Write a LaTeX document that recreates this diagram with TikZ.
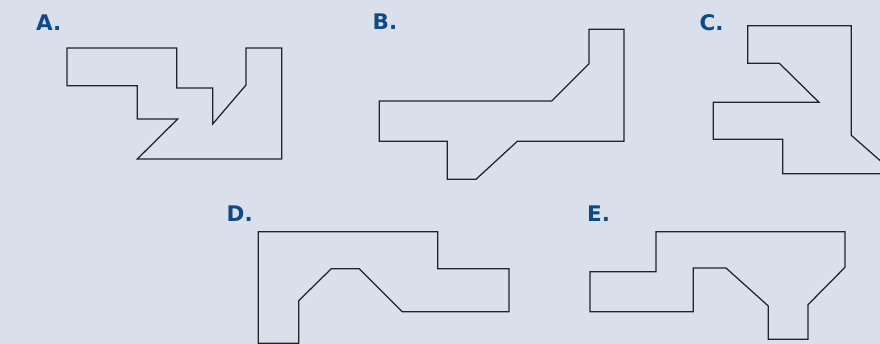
\documentclass[tikz,border=0pt]{standalone}
\usepackage{fontspec}
\setmainfont{Liberation Sans}
\newfontfamily\labfont{DejaVu Sans}
\definecolor{bgcol}{RGB}{218,223,236}
\definecolor{labblue}{RGB}{16,74,134}
\definecolor{edgecol}{RGB}{35,35,38}
\begin{document}
\begin{tikzpicture}[x=1pt,y=-1pt,
  shapeline/.style={draw=edgecol,line width=1.25pt,line join=miter},
  lab/.style={anchor=base west,inner sep=0pt,text=labblue,font=\labfont\fontsize{21.5}{22}\selectfont\bfseries}]
\fill[bgcol] (0,0) rectangle (880,344);
\useasboundingbox (0,0) rectangle (880,344);
\clip (0,0) rectangle (880,344);
% labels
\node[lab] (la) at (36,31) {A.};
\node[lab] (lb) at (372.5,30) {B.};
\node[lab] (lc) at (699.5,31) {C.};
\node[lab] (ld) at (226.5,221.5) {D.};
\node[lab] (le) at (587,222) {E.};
% shape A
\draw[shapeline] (67,48) -- (176.7,48) -- (176.7,88) -- (212.7,88) -- (212.7,124)
  -- (246,85) -- (246,48) -- (281.7,48) -- (281.7,159) -- (137.3,159)
  -- (177.7,119) -- (137.3,119) -- (137.3,85.7) -- (67,85.7) -- cycle;
% shape B
\draw[shapeline] (379.3,101) -- (551.7,101) -- (589,63.7) -- (589,29.3) -- (624,29.3)
  -- (624,141.3) -- (517.3,141.3) -- (476,179.3) -- (447.3,179.3) -- (447.3,141.3)
  -- (379.3,141.3) -- cycle;
% shape C
\draw[shapeline] (747.7,25.7) -- (851.3,25.7) -- (851.3,135.3) -- (895,173.7)
  -- (782.7,173.7) -- (782.7,139.3) -- (713.3,139.3) -- (713.3,102.3) -- (819,102.3)
  -- (779.3,63.3) -- (747.7,63.3) -- cycle;
% shape D
\draw[shapeline] (258.3,231.7) -- (437.7,231.7) -- (437.7,268.7) -- (509,268.7)
  -- (509,311.7) -- (402.3,311.7) -- (359.3,268.7) -- (331.3,268.7) -- (298.7,300.7)
  -- (298.7,343.3) -- (258.3,343.3) -- cycle;
% shape E
\draw[shapeline] (656,231.7) -- (845,231.7) -- (845,267.3) -- (808,304.7) -- (808,339.3)
  -- (768.3,339.3) -- (768.3,306) -- (726,268) -- (693.3,268) -- (693.3,311.7)
  -- (590,311.7) -- (590,271.7) -- (656,271.7) -- cycle;
\end{tikzpicture}
\end{document}
